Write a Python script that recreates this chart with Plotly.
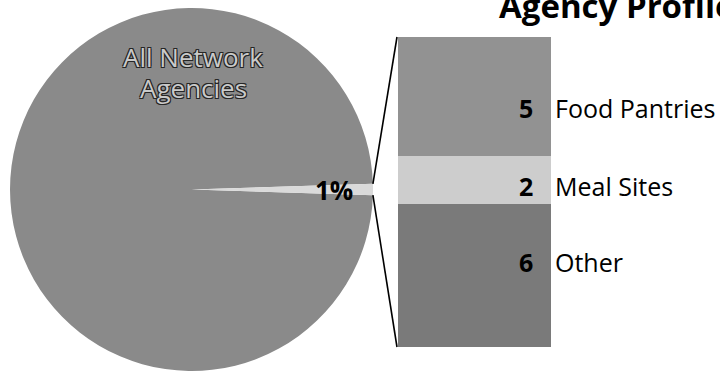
import math
import plotly.graph_objects as go

# Share of all network agencies (percent)
pie_labels = ["All Network Agencies", "Profiled Agencies"]
pie_values = [99, 1]

# Breakdown of the profiled agencies, bottom to top of the stacked bar
bar_labels = ["Other", "Meal Sites", "Food Pantries"]
bar_values = [6, 2, 5]

W, H = 720, 371
FONT = "Open Sans"

pie_color = "#8a8a8a"
slice_color = "#dadada"
bar_colors = ["#7a7a7a", "#cdcdcd", "#929292"]


def px_x(x):
    return x / W


def px_y(y):
    return 1 - y / H


# pie placement (pixels)
pie_left, pie_right, pie_top, pie_bottom = 10, 373, 8, 371
# bar placement (pixels)
bar_left, bar_right, bar_top, bar_bottom = 398, 551, 37, 347

fig = go.Figure()

frac = pie_values[1] / sum(pie_values)
half_angle = 360 * frac / 2

# counterclockwise: the last (small) slice ends at the rotation angle,
# so this centres it on 3 o'clock
fig.add_trace(go.Pie(
    labels=pie_labels,
    values=pie_values,
    sort=False,
    direction="counterclockwise",
    rotation=90 + half_angle,
    marker=dict(colors=[pie_color, slice_color], line=dict(width=0)),
    textinfo="none",
    hoverinfo="label+percent",
    showlegend=False,
    domain=dict(x=[px_x(pie_left), px_x(pie_right)],
                y=[px_y(pie_bottom), px_y(pie_top)]),
))

total = sum(bar_values)
for lab, val, col in zip(bar_labels, bar_values, bar_colors):
    fig.add_trace(go.Bar(
        x=[0], y=[val], name=lab, width=1,
        marker=dict(color=col, line=dict(width=0)),
        showlegend=False, xaxis="x", yaxis="y",
    ))

fig.update_layout(
    width=W, height=H,
    margin=dict(l=0, r=0, t=0, b=0),
    paper_bgcolor="white", plot_bgcolor="rgba(0,0,0,0)",
    barmode="stack", bargap=0,
    xaxis=dict(domain=[px_x(bar_left), px_x(bar_right)], range=[-0.5, 0.5],
               visible=False, fixedrange=True),
    yaxis=dict(domain=[px_y(bar_bottom), px_y(bar_top)], range=[0, total],
               visible=False, fixedrange=True),
)

# connector lines from the small slice to the bar corners
cx = (pie_left + pie_right) / 2
cy = (pie_top + pie_bottom) / 2
r = (pie_right - pie_left) / 2
a = math.radians(half_angle)
ex = cx + r * math.cos(a)
ey_top = cy - r * math.sin(a)
ey_bot = cy + r * math.sin(a)
for ey, by in [(ey_top, bar_top), (ey_bot, bar_bottom)]:
    fig.add_shape(type="line", xref="paper", yref="paper",
                  x0=px_x(ex), y0=px_y(ey), x1=px_x(bar_left - 1), y1=px_y(by),
                  line=dict(color="black", width=1.6))

annotations = []

# title
annotations.append(dict(
    text="<b>Agency Profile</b>", xref="paper", yref="paper",
    x=px_x(497), y=px_y(6), xanchor="left", yanchor="middle", showarrow=False,
    font=dict(family=FONT, size=33, color="black"),
))

# pie labels
outline = ("1px 1px 0 #262626, -1px -1px 0 #262626, 1px -1px 0 #262626, "
           "-1px 1px 0 #262626, 0 1px 0 #262626, 0 -1px 0 #262626")
for txt, yc in [("All Network", 57), ("Agencies", 88)]:
    annotations.append(dict(
        text=txt, xref="paper", yref="paper", x=px_x(193), y=px_y(yc),
        xanchor="center", yanchor="middle", showarrow=False,
        font=dict(family=FONT, size=26, color="#cacaca", shadow=outline),
    ))

annotations.append(dict(
    text=f"<b>{frac:.0%}</b>", xref="paper", yref="paper",
    x=px_x(334), y=px_y(190), xanchor="center", yanchor="middle",
    showarrow=False, font=dict(family=FONT, size=26, color="black"),
))

# bar labels
yshifts = [13, -6, -11]
base = 0
for lab, val, ys in zip(bar_labels, bar_values, yshifts):
    mid = base + val / 2
    base += val
    annotations.append(dict(
        text=f"<b>{val}</b>", xref="x", yref="y", x=0.5, y=mid,
        xanchor="right", yanchor="middle", xshift=-16, yshift=ys,
        showarrow=False, font=dict(family=FONT, size=25, color="black"),
    ))
    annotations.append(dict(
        text=lab, xref="x", yref="y", x=0.5, y=mid,
        xanchor="left", yanchor="middle", xshift=2, yshift=ys,
        showarrow=False, font=dict(family=FONT, size=25, color="black"),
    ))

fig.update_layout(annotations=annotations)

fig.write_html("out.html")
